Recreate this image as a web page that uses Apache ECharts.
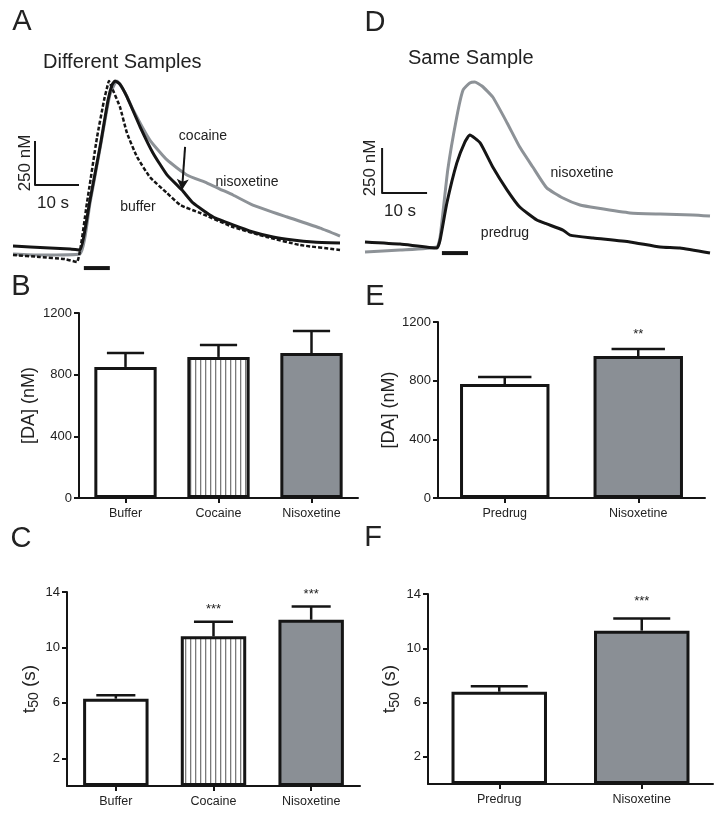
<!DOCTYPE html>
<html><head><meta charset="utf-8">
<script src="https://cdn.jsdelivr.net/npm/echarts@6/dist/echarts.min.js"></script>
<style>html,body{margin:0;padding:0;background:#fff}#c{width:723px;height:816px}</style>
</head><body><div id="c"></div>
<script>
// ---------- DATA ----------
// Panel A traces (time s, [DA] nM)
const traceA_nisoxetine = [[0,91],[6.1,85],[15.2,91],[17.5,381],[19.8,693],[22.0,994],[23.6,1074],[25.5,1005],[27.3,909],[31.1,738],[35.0,625],[39.5,540],[44.1,494],[47.0,460],[50.0,426],[54.5,369],[62.3,301],[69.8,238],[74.3,193]];
const traceA_cocaine = [[0,136],[3.9,131],[8.4,125],[13.0,119],[15.2,114],[17.5,398],[19.8,704],[21.6,966],[22.5,1051],[23.2,1074],[24.3,1056],[25.9,983],[28.9,812],[31.8,665],[35.0,540],[38.4,454],[40.9,381],[45.5,301],[50.0,256],[54.5,216],[59.1,187],[63.6,170],[68.2,159],[74.3,153]];
const traceA_buffer = [[0,85],[6.1,74],[11.8,62],[14.5,45],[16.8,381],[19.1,755],[20.7,966],[21.4,1039],[21.8,1074],[22.5,1034],[24.3,926],[25.9,778],[28.2,642],[31.1,528],[35.0,437],[38.0,369],[42.5,324],[50.0,244],[57.7,187],[65.2,142],[74.3,114]];
// Panel D traces
const traceD_predrug = [[0,156],[7.8,144],[16.0,122],[16.7,167],[18.2,372],[20.4,594],[22.2,711],[23.3,750],[25.6,706],[28.4,572],[31.6,444],[34.4,350],[38.2,278],[40.4,256],[44.0,222],[45.6,194],[50.7,178],[58.9,156],[65.6,128],[70.0,122],[76.7,94]];
const traceD_nisoxetine = [[0,100],[7.8,111],[16.0,128],[16.7,183],[18.4,556],[20.4,850],[21.8,1000],[23.3,1039],[24.4,1044],[26.0,1022],[28.4,961],[31.6,817],[34.4,683],[37.3,572],[40.4,456],[44.0,400],[47.8,361],[51.6,344],[58.9,317],[65.6,311],[72.9,306],[76.7,300]];
// scale bars / stimulation bars (time s, nM)
const scaleA = [[5.0,733],[5.0,483],[15.0,483]];
const stimA = [[16.1,11],[22.0,11]];
const scaleD = [[3.8,678],[3.8,428],[13.8,428]];
const stimD = [[17.1,94],[22.9,94]];
const arrowCocaine = [[39.1,699],[38.4,454]];

// bar panels
const catsDiff = ['Buffer','Cocaine','Nisoxetine'];
const catsSame = ['Predrug','Nisoxetine'];
const daMeanDiff = [850,915,940];
const daErrDiff = [90,77,143];
const daMeanSame = [777,968];
const daErrSame = [48,48];
const t50MeanDiff = [6.3,10.8,12.0];
const t50ErrDiff = [0.25,1.05,0.95];
const t50MeanSame = [6.8,11.3];
const t50ErrSame = [0.4,0.9];
const starsDADiff = ['','',''];
const starsDASame = ['','**'];
const starsT50Diff = ['','***','***'];
const starsT50Same = ['','***'];
const daTicks = [0,400,800,1200];
const t50Ticks = [2,6,10,14];

// ---------- STYLE ----------
const FONT = "'Liberation Sans', Arial, Helvetica, sans-serif";
const INK = '#151515';
const GRAY = '#8a8f95';
const GRAYLINE = '#8d9297';
const stripe = (function(){
  const c = document.createElement('canvas'); c.width = 5; c.height = 8;
  const g = c.getContext('2d'); g.fillStyle = '#fff'; g.fillRect(0,0,5,8);
  g.fillStyle = '#7a7a7a'; g.fillRect(0,0,1.3,8);
  return c;
})();
const fillsDiff = ['#ffffff', {image: stripe, repeat: 'repeat'}, GRAY];
const fillsSame = ['#ffffff', GRAY];

const chart = echarts.init(document.getElementById('c'), null, {renderer: 'canvas'});

function traceAxisX(grid, max){ return {type:'value', gridIndex:grid, min:0, max:max, show:false}; }
function traceAxisY(grid, max){ return {type:'value', gridIndex:grid, min:0, max:max, show:false}; }

function catAxis(grid, cats){
  return {type:'category', gridIndex:grid, data:cats, boundaryGap:true,
    axisLine:{show:true, lineStyle:{color:INK, width:2}},
    axisTick:{show:true, alignWithLabel:true, length:5, lineStyle:{color:INK, width:2}},
    axisLabel:{fontFamily:FONT, fontSize:12.5, color:'#222', margin:9}};
}
function valAxis(grid, max, ticks, name, gap){
  return {type:'value', gridIndex:grid, min:0, max:max,
    axisLine:{show:true, onZero:false, lineStyle:{color:INK, width:2}},
    axisTick:{show:true, length:5, lineStyle:{color:INK, width:2}, customValues: ticks},
    axisLabel:{fontFamily:FONT, fontSize:13, color:'#222', margin:7, customValues: ticks, formatter:function(v){return String(v);}},
    splitLine:{show:false},
    name:name, nameLocation:'middle', nameGap:gap,
    nameTextStyle:{fontFamily:FONT, fontSize:18, color:'#222',
      rich:{t:{fontFamily:FONT, fontSize:19, color:'#222', lineHeight:24},
            s:{fontFamily:FONT, fontSize:14, color:'#222', lineHeight:24, verticalAlign:'bottom', padding:[7,0,0,0]}}}};
}

function barSeries(ax, means, fills){
  return {type:'bar', xAxisIndex:ax, yAxisIndex:ax, barWidth:'67%', z:2,
    data: means.map((v,i)=>({value:v, itemStyle:{color:fills[i], borderColor:INK, borderWidth:3}})),
    animation:false};
}
function errSeries(ax, means, errs, stars, starGap){
  return {type:'custom', xAxisIndex:ax, yAxisIndex:ax, z:3, animation:false,
    data: means.map((v,i)=>[i, v, errs[i]]),
    renderItem:function(params, api){
      const i = api.value(0), m = api.value(1), e = api.value(2);
      const p0 = api.coord([i, m]);
      const p1 = api.coord([i, m+e]);
      const band = api.size([1,0])[0];
      const cw = band*0.4;
      const star = stars[params.dataIndex];
      const kids = [
        {type:'line', shape:{x1:p0[0], y1:p0[1], x2:p1[0], y2:p1[1]}, style:{stroke:INK, lineWidth:2.5}},
        {type:'line', shape:{x1:p1[0]-cw/2, y1:p1[1], x2:p1[0]+cw/2, y2:p1[1]}, style:{stroke:INK, lineWidth:2.5}}
      ];
      if (star) kids.push({type:'text', style:{text:star, x:p1[0], y:p1[1]-starGap, textAlign:'center', textVerticalAlign:'middle', font:'13px '+FONT, fill:'#222'}});
      return {type:'group', children:kids};
    }};
}
function lineSeries(ax, data, color, width, type, z, smooth){
  return {type:'line', xAxisIndex:ax, yAxisIndex:ax, data:data, showSymbol:false, symbol:'none', smooth:smooth||0,
    lineStyle:{color:color, width:width, type:type||'solid', cap:'butt', join:'round'}, z:z||2, animation:false, silent:true};
}

function txt(x, y, text, size, opts){
  opts = opts || {};
  return {type:'text', x:x, y:y, rotation:opts.rot||0, z:10,
    style:{text:text, font:size+'px '+FONT, fill:opts.fill||'#222', textAlign:opts.align||'center', textVerticalAlign:'middle'}};
}

const option = {
  animation:false,
  backgroundColor:'#fff',
  grid:[
    {left:13, top:70, width:327, height:200},
    {left:365, top:70, width:345, height:200},
    {left:79, top:313, width:279, height:185},
    {left:438, top:322, width:267, height:176},
    {left:67, top:592, width:293, height:194},
    {left:428, top:594, width:285, height:190}
  ],
  xAxis:[traceAxisX(0,74.3), traceAxisX(1,76.7), catAxis(2,catsDiff), catAxis(3,catsSame), catAxis(4,catsDiff), catAxis(5,catsSame)],
  yAxis:[traceAxisY(0,1136), traceAxisY(1,1111),
    valAxis(2,1200,daTicks,'[DA] (nM)',41),
    valAxis(3,1200,daTicks,'[DA] (nM)',37),
    valAxis(4,14,t50Ticks,'{t|t}{s|50}{t| (s)}',25),
    valAxis(5,14,t50Ticks,'{t|t}{s|50}{t| (s)}',26)],
  series:[
    lineSeries(0, traceA_nisoxetine, GRAYLINE, 3, 'solid', 2, 0.15),
    lineSeries(0, traceA_buffer, INK, 2.5, [4,2], 2, 0.15),
    Object.assign(lineSeries(0, traceA_cocaine, INK, 3, 'solid', 3, 0.15), {
      markLine:{silent:true, symbol:['none','arrow'], symbolSize:[9,11], animation:false,
        lineStyle:{color:INK, width:2, type:'solid'}, label:{show:false},
        data:[[{coord:arrowCocaine[0]},{coord:arrowCocaine[1]}]]}}),
    lineSeries(0, scaleA, INK, 2),
    lineSeries(0, stimA, INK, 4),
    lineSeries(1, traceD_predrug, INK, 3, 'solid', 3, 0.15),
    lineSeries(1, traceD_nisoxetine, GRAYLINE, 3, 'solid', 2, 0.15),
    lineSeries(1, scaleD, INK, 2),
    lineSeries(1, stimD, INK, 4),
    barSeries(2, daMeanDiff, fillsDiff), errSeries(2, daMeanDiff, daErrDiff, starsDADiff, 15),
    barSeries(3, daMeanSame, fillsSame), errSeries(3, daMeanSame, daErrSame, starsDASame, 15),
    barSeries(4, t50MeanDiff, fillsDiff), errSeries(4, t50MeanDiff, t50ErrDiff, starsT50Diff, 12),
    barSeries(5, t50MeanSame, fillsSame), errSeries(5, t50MeanSame, t50ErrSame, starsT50Same, 17)
  ],
  graphic:[
    txt(22,22,'A',29), txt(375,23,'D',29),
    txt(21,287,'B',29), txt(375,297,'E',29),
    txt(21,539,'C',29), txt(373,538,'F',29),
    txt(43,62,'Different Samples',20,{align:'left'}),
    txt(408,58,'Same Sample',20,{align:'left'}),
    txt(25,163,'250 nM',17,{rot:Math.PI/2}), txt(53,203,'10 s',17),
    txt(370,168,'250 nM',17,{rot:Math.PI/2}), txt(400,211,'10 s',17),
    txt(203,136,'cocaine',14), txt(247,182,'nisoxetine',14), txt(138,207,'buffer',14),
    txt(582,173,'nisoxetine',14), txt(505,233,'predrug',14)
  ]
};
chart.setOption(option);
</script></body></html>
